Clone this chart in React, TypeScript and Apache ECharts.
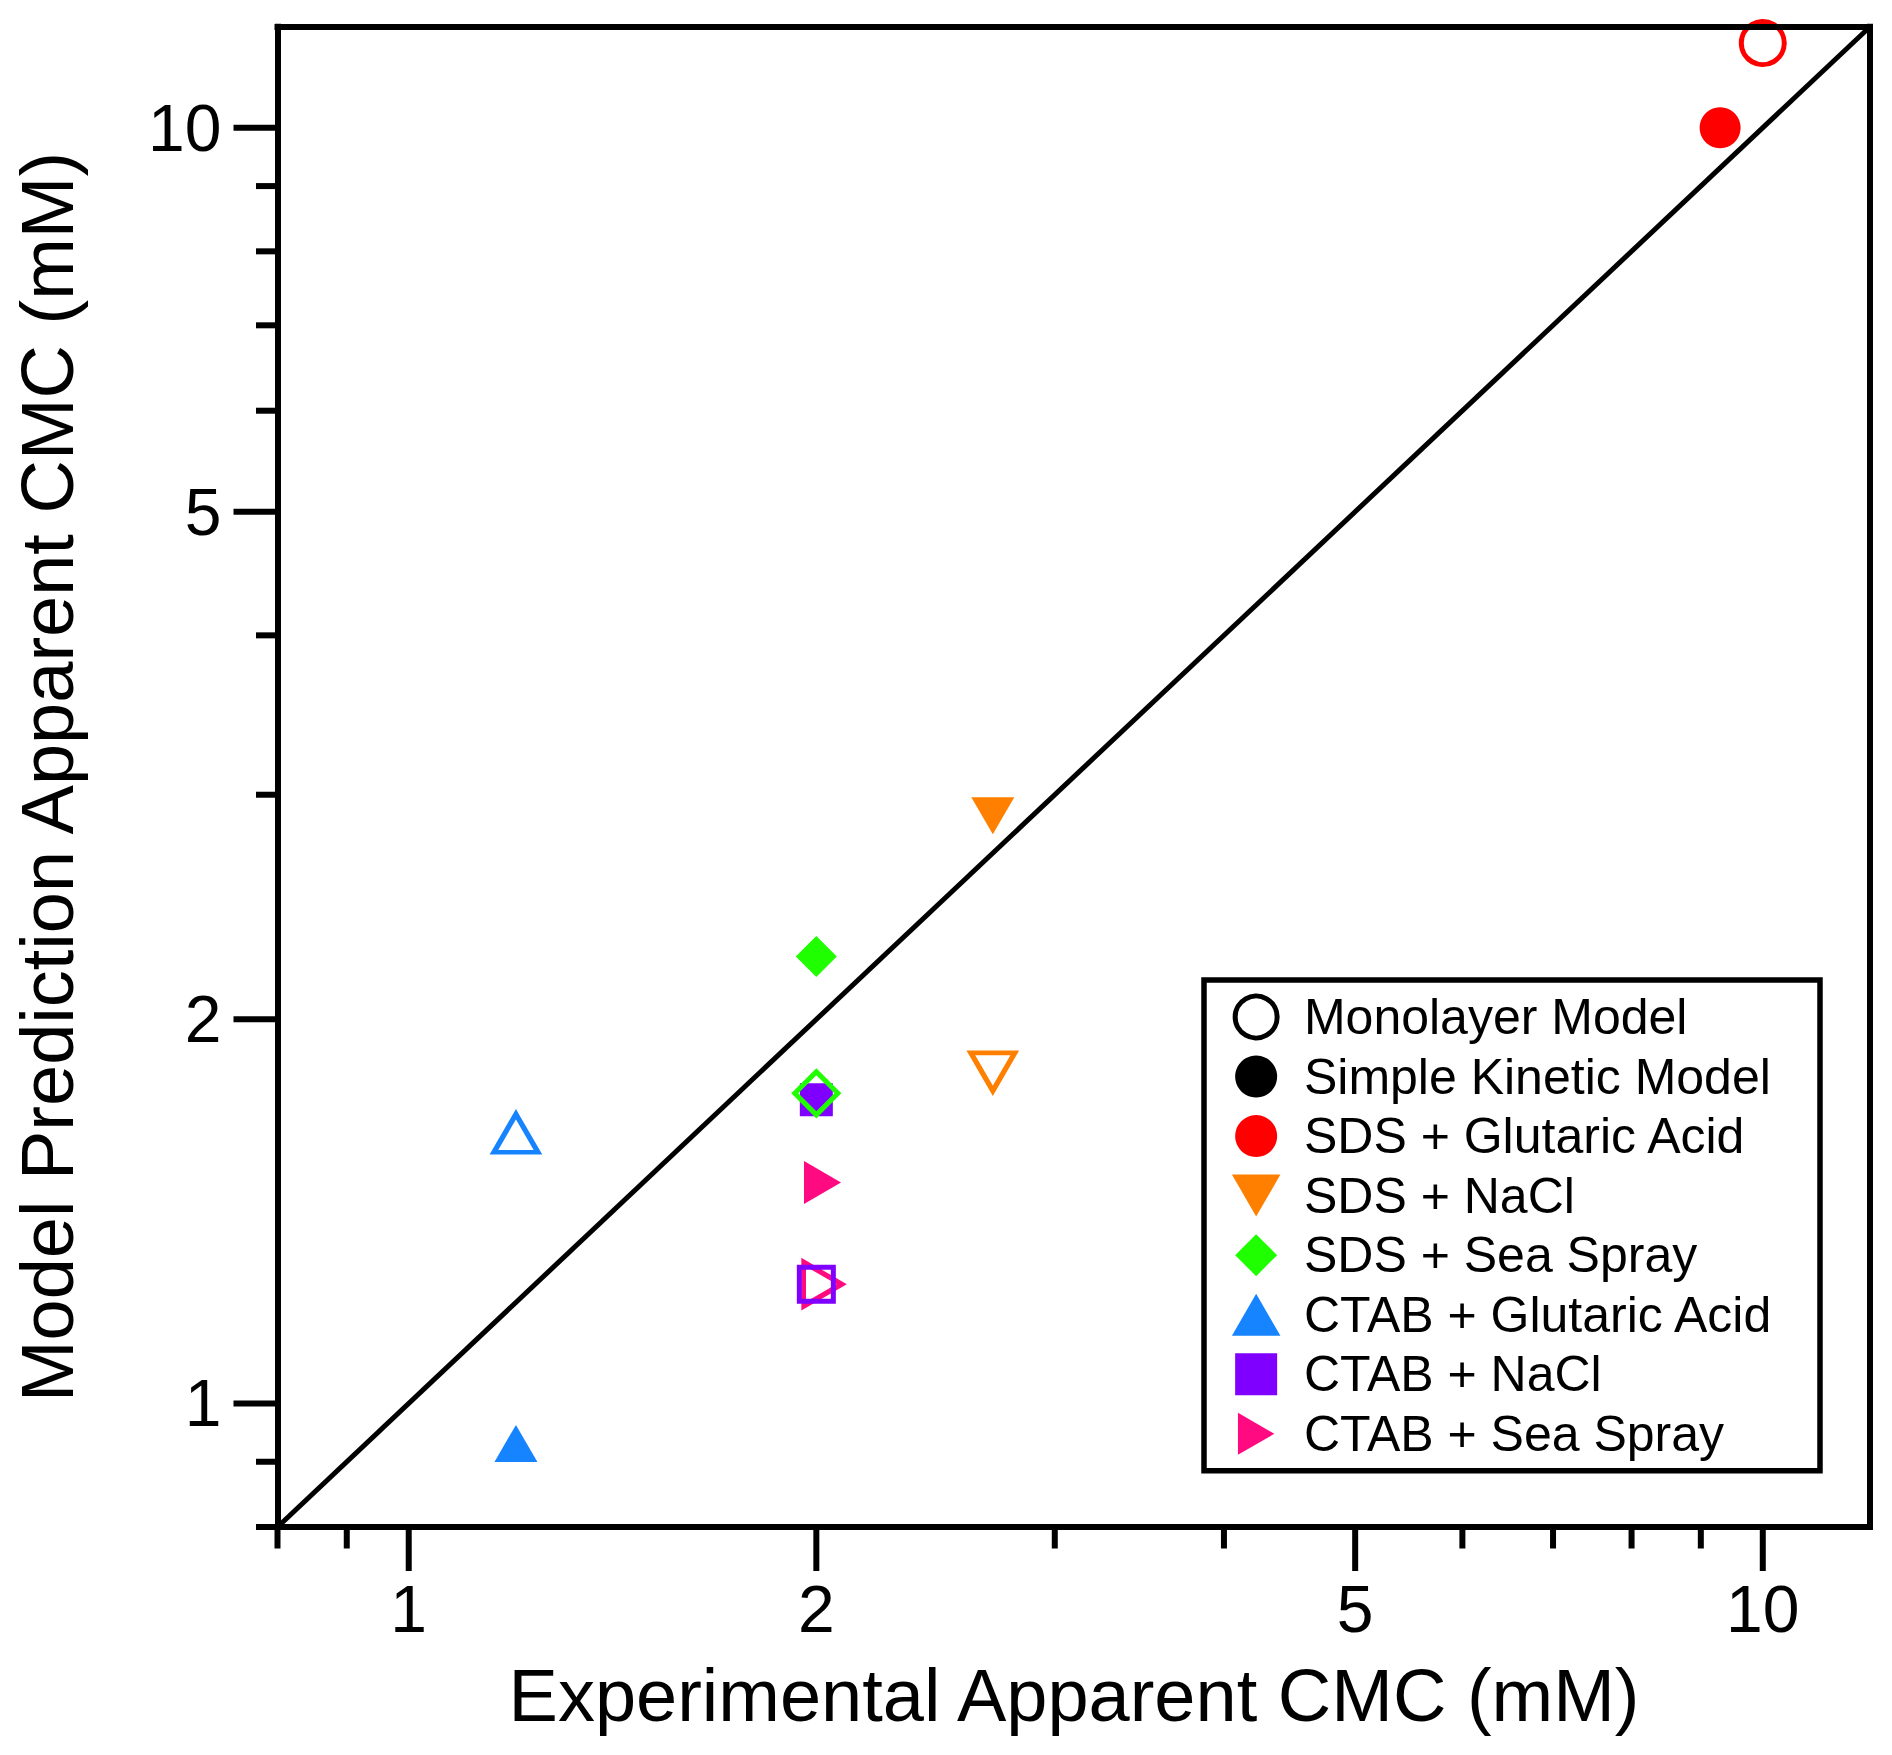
import React, { useEffect, useRef } from "react";
import * as echarts from "echarts";

// ---------------- data ----------------
const systemNames = [
  "SDS + Glutaric Acid",
  "SDS + NaCl",
  "SDS + Sea Spray",
  "CTAB + Glutaric Acid",
  "CTAB + NaCl",
  "CTAB + Sea Spray",
];
const modelNames = ["Monolayer Model", "Simple Kinetic Model"];
// Simple Kinetic Model (filled markers)
const experimentalSimple = [9.3, 2.7, 2.0, 1.2, 2.0, 2.0];
const predictedSimple = [10.0, 2.92, 2.24, 0.92, 1.73, 1.49];
// Monolayer Model (hollow markers)
const experimentalMonolayer = [10.0, 2.7, 2.0, 1.2, 2.0, 2.0];
const predictedMonolayer = [11.65, 1.84, 1.75, 1.61, 1.24, 1.24];
// axes
const axisMin = 0.8;
const axisMax = 12;
const majorTickValues = [1, 2, 5, 10];
const minorTickValues = [0.8, 0.9, 3, 4, 6, 7, 8, 9];
const identityLine = [axisMin, axisMax];
const xTitle = "Experimental Apparent CMC (mM)";
const yTitle = "Model Prediction Apparent CMC (mM)";

// ---------------- styles ----------------
const systemColors = ["#FF0000", "#FF8000", "#1FFF00", "#1683FF", "#8000FF", "#FF0A80"];
const TRI_DOWN = "path://M0,0L2,0L1,1.732Z";
const TRI_UP = "path://M1,0L2,1.732L0,1.732Z";
const TRI_RIGHT = "path://M0,0L1.732,1L0,2Z";
const SQUARE = "path://M0,0L1,0L1,1L0,1Z";
const DIAMOND = "path://M1,0L2,1L1,2L0,1Z";
const markerDefs = [
  { symbol: "circle", filled: [41, 41], hollow: [43, 43], shift: [0, 0] },
  { symbol: TRI_DOWN, filled: [43, 37], hollow: [44, 38], shift: [0, 1 / 6] },
  { symbol: DIAMOND, filled: [41, 41], hollow: [43, 43], shift: [0, 0] },
  { symbol: TRI_UP, filled: [43, 37], hollow: [44, 38], shift: [0, -1 / 6] },
  { symbol: SQUARE, filled: [33, 33], hollow: [34, 34], shift: [0, 0] },
  { symbol: TRI_RIGHT, filled: [37, 43], hollow: [38, 44], shift: [1 / 6, 0] },
];
const FONT = '"Liberation Sans", Arial, Helvetica, sans-serif';
const AXIS_W = 6;
const MAJOR_LEN = 44;
const MINOR_LEN = 21.5;

function tickSeries(dim: "x" | "y", values: number[], len: number, withLabel: boolean) {
  return {
    type: "custom",
    z: 7,
    silent: true,
    clip: false,
    data: values.map((v) => (dim === "x" ? [v, axisMin] : [axisMin, v])),
    renderItem: (params: any, api: any) => {
      const xv = api.value(0);
      const yv = api.value(1);
      const p = api.coord([xv, yv]);
      const children: any[] = [];
      if (dim === "x") {
        children.push({
          type: "line",
          shape: { x1: p[0], y1: p[1], x2: p[0], y2: p[1] + len },
          style: { stroke: "#000", lineWidth: AXIS_W },
        });
        if (withLabel) {
          children.push({
            type: "text",
            x: p[0],
            y: p[1] + 82,
            style: {
              text: String(xv),
              font: `66px ${FONT}`,
              fill: "#000",
              align: "center",
              verticalAlign: "middle",
              textAlign: "center",
              textVerticalAlign: "middle",
            },
          });
        }
      } else {
        children.push({
          type: "line",
          shape: { x1: p[0], y1: p[1], x2: p[0] - len, y2: p[1] },
          style: { stroke: "#000", lineWidth: AXIS_W },
        });
        if (withLabel) {
          children.push({
            type: "text",
            x: p[0] - 56,
            y: p[1],
            style: {
              text: String(yv),
              font: `66px ${FONT}`,
              fill: "#000",
              align: "right",
              verticalAlign: "middle",
              textAlign: "right",
              textVerticalAlign: "middle",
            },
          });
        }
      }
      return { type: "group", children };
    },
  };
}

function buildOption() {
  const axisLine = { show: true, onZero: false, lineStyle: { color: "#000", width: AXIS_W, cap: "square" } };
  const baseAxis = {
    type: "log",
    logBase: 10,
    min: axisMin,
    max: axisMax,
    gridIndex: 0,
    z: 6,
    axisLine,
    axisTick: { show: false },
    axisLabel: { show: false },
    splitLine: { show: false },
    minorTick: { show: false },
    minorSplitLine: { show: false },
  };

  const filledSeries = systemNames.map((name, i) => {
    const d = markerDefs[i];
    return {
      type: "scatter",
      name,
      z: 3,
      symbol: d.symbol,
      symbolSize: d.filled,
      symbolOffset: [d.shift[0] * d.filled[0], d.shift[1] * d.filled[1]],
      itemStyle: { color: systemColors[i], borderWidth: 0, opacity: 1 },
      emphasis: { disabled: true },
      data: [[experimentalSimple[i], predictedSimple[i]]],
    };
  });

  const hollowOrder = [0, 1, 2, 3, 5, 4];
  const hollowSeries = hollowOrder.map((i) => {
    const d = markerDefs[i];
    return {
      type: "scatter",
      name: systemNames[i] + " (Monolayer)",
      z: 4,
      symbol: d.symbol,
      symbolSize: d.hollow,
      symbolOffset: [d.shift[0] * d.hollow[0], d.shift[1] * d.hollow[1]],
      itemStyle: { color: "rgba(0,0,0,0)", borderColor: systemColors[i], borderWidth: 5, opacity: 1 },
      emphasis: { disabled: true },
      data: [[experimentalMonolayer[i], predictedMonolayer[i]]],
    };
  });

  const legendData = [
    {
      name: modelNames[0],
      icon: "circle",
      itemStyle: { color: "rgba(0,0,0,0)", borderColor: "#000000", borderWidth: 5, opacity: 1 },
    },
    {
      name: modelNames[1],
      icon: "circle",
      itemStyle: { color: "#000000", borderColor: "#000000", borderWidth: 0, opacity: 1 },
    },
    ...systemNames.map((name, i) => ({
      name,
      icon: markerDefs[i].symbol,
      itemStyle: { color: systemColors[i], borderWidth: 0, opacity: 1 },
    })),
  ];

  return {
    animation: false,
    backgroundColor: "#fff",
    textStyle: { fontFamily: FONT },
    grid: {
      left: 277.5,
      right: 22,
      top: 26.7,
      bottom: 228,
      containLabel: false,
      outerBoundsMode: "none",
      show: false,
    },
    xAxis: [
      { ...baseAxis, position: "bottom" },
      { ...baseAxis, position: "top" },
    ],
    yAxis: [
      { ...baseAxis, position: "left" },
      { ...baseAxis, position: "right" },
    ],
    legend: {
      orient: "vertical",
      left: 1204,
      top: 980,
      padding: [12, 46, 12, 27.9],
      itemWidth: 85.6,
      itemHeight: 42,
      itemGap: 9.54,
      borderColor: "#000",
      borderWidth: 5.5,
      backgroundColor: "#fff",
      selectedMode: false,
      textStyle: { fontSize: 50, fontFamily: FONT, color: "#000", lineHeight: 50 },
      data: legendData,
    },
    graphic: [
      {
        type: "text",
        x: 1074,
        y: 1695,
        style: {
          text: xTitle,
          font: `74px ${FONT}`,
          fill: "#000",
          align: "center",
          verticalAlign: "middle",
          textAlign: "center",
          textVerticalAlign: "middle",
        },
      },
      {
        type: "text",
        x: 47.3,
        y: 777,
        rotation: Math.PI / 2,
        style: {
          text: yTitle,
          font: `74px ${FONT}`,
          fill: "#000",
          align: "center",
          verticalAlign: "middle",
          textAlign: "center",
          textVerticalAlign: "middle",
        },
      },
    ],
    series: [
      {
        type: "line",
        name: "1:1",
        z: 1,
        symbol: "none",
        silent: true,
        lineStyle: { color: "#000", width: 5 },
        data: identityLine.map((v) => [v, v]),
      },
      {
        type: "scatter",
        name: modelNames[0],
        itemStyle: { color: "rgba(0,0,0,0)", borderColor: "#000000", borderWidth: 5, opacity: 1 },
        data: [],
      },
      {
        type: "scatter",
        name: modelNames[1],
        itemStyle: { color: "#000000", borderWidth: 0, opacity: 1 },
        data: [],
      },
      ...filledSeries,
      ...hollowSeries,
      tickSeries("x", majorTickValues, MAJOR_LEN, true),
      tickSeries("x", minorTickValues, MINOR_LEN, false),
      tickSeries("y", majorTickValues, MAJOR_LEN, true),
      tickSeries("y", minorTickValues, MINOR_LEN, false),
    ],
  };
}

export default function App() {
  const ref = useRef<HTMLDivElement>(null);
  useEffect(() => {
    if (!ref.current) return;
    const chart = echarts.init(ref.current, null, { renderer: "svg" });
    chart.setOption(buildOption() as any);
    return () => {
      chart.dispose();
    };
  }, []);
  return (
    <div
      ref={ref}
      style={{ position: "absolute", left: 0, top: 0, width: 1892, height: 1755, background: "#fff" }}
    />
  );
}
